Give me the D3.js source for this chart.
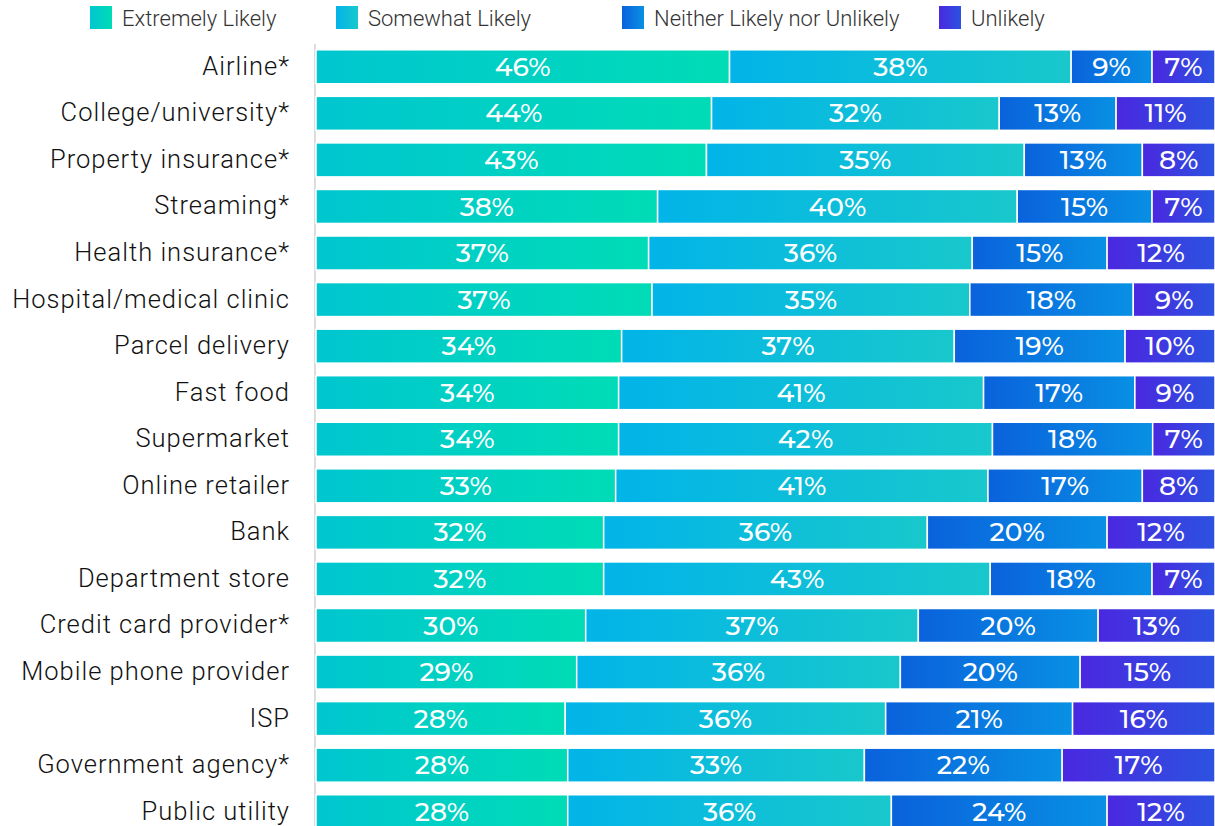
<!DOCTYPE html>
<html><head><meta charset="utf-8">
<script src="https://cdn.jsdelivr.net/npm/d3@7"></script>
<style>
html,body{margin:0;padding:0;background:#fff;overflow:hidden;}
</style></head>
<body><svg id="chart" width="1215" height="826"></svg>
<script>
const categories = ["Airline*","College/university*","Property insurance*","Streaming*","Health insurance*","Hospital/medical clinic","Parcel delivery","Fast food","Supermarket","Online retailer","Bank","Department store","Credit card provider*","Mobile phone provider","ISP","Government agency*","Public utility"];
const seriesNames = ["Extremely Likely","Somewhat Likely","Neither Likely nor Unlikely","Unlikely"];
const extremelyLikely = [46,44,43,38,37,37,34,34,34,33,32,32,30,29,28,28,28];
const somewhatLikely  = [38,32,35,40,36,35,37,41,42,41,36,43,37,36,36,33,36];
const neither         = [9,13,13,15,15,18,19,17,18,17,20,18,20,20,21,22,24];
const unlikely        = [7,11,8,7,12,9,10,9,7,8,12,7,13,15,16,17,12];
const seriesValues = [extremelyLikely, somewhatLikely, neither, unlikely];
const gradStops = [["#00c6d0","#00dcb6"],["#02b4e8","#18c8cc"],["#0a62dc","#0890e4"],["#4a28e0","#2c52e0"]];

const svg = d3.select("#chart");
const defs = svg.append("defs");
gradStops.forEach((g,i)=>{
  const lg = defs.append("linearGradient").attr("id","g"+i).attr("x1","0%").attr("x2","100%").attr("y1","0%").attr("y2","0%");
  lg.append("stop").attr("offset","0%").attr("stop-color",g[0]);
  lg.append("stop").attr("offset","100%").attr("stop-color",g[1]);
});

const x0 = 316, x1 = 1215;
const x = d3.scaleLinear().domain([0,100]).range([x0,x1]);
const y = d3.scaleBand().domain(categories).range([43.5, 43.5 + 46.56*17]).paddingInner(0.27).paddingOuter(0.135);

const rows = categories.map((c,i)=>{
  const vals = seriesValues.map(s=>s[i]);
  const tot = d3.sum(vals);
  let acc = 0;
  return vals.map((v,j)=>{ const s = acc; acc += v*100/tot; return {cat:c, j, v, s, e:acc}; });
});

// axis line
svg.append("line").attr("x1",315).attr("x2",315).attr("y1",44).attr("y2",826).attr("stroke","#dcdcdc").attr("stroke-width",2);

const g = svg.append("g");
rows.forEach(r=>{
  r.forEach(d=>{
    g.append("rect").attr("x",x(d.s)).attr("y",y(d.cat)).attr("width",x(d.e)-x(d.s)).attr("height",y.bandwidth())
      .attr("fill","url(#g"+d.j+")").attr("stroke","#fff").attr("stroke-width",1.5);
    g.append("text").attr("x",(x(d.s)+x(d.e))/2).attr("y",y(d.cat)+y.bandwidth()/2 - 0.5).attr("dy","0.36em")
      .attr("text-anchor","middle").attr("fill","#fff").attr("font-family","Montserrat, 'Open Sans', sans-serif")
      .attr("font-weight",500).attr("font-size",26.5).text(d.v+"%");
  });
});

// category labels
svg.append("g").selectAll("text").data(categories).join("text")
  .attr("x",290).attr("y",d=>y(d)+y.bandwidth()/2 - 1).attr("dy","0.35em").attr("text-anchor","end")
  .attr("font-family","Roboto, sans-serif").attr("font-weight",300).attr("font-size",25.5).attr("letter-spacing",1).attr("fill","#111")
  .text(d=>d);

// legend
const legX = [90, 336, 622, 939];
const lg = svg.append("g");
seriesNames.forEach((n,i)=>{
  lg.append("rect").attr("x",legX[i]).attr("y",6).attr("width",22).attr("height",23).attr("fill","url(#g"+i+")");
  lg.append("text").attr("x",legX[i]+32).attr("y",18).attr("dy","0.36em").attr("font-family","Roboto, sans-serif")
    .attr("font-weight",300).attr("font-size",22).attr("fill","#333").text(n);
});
</script></body></html>
